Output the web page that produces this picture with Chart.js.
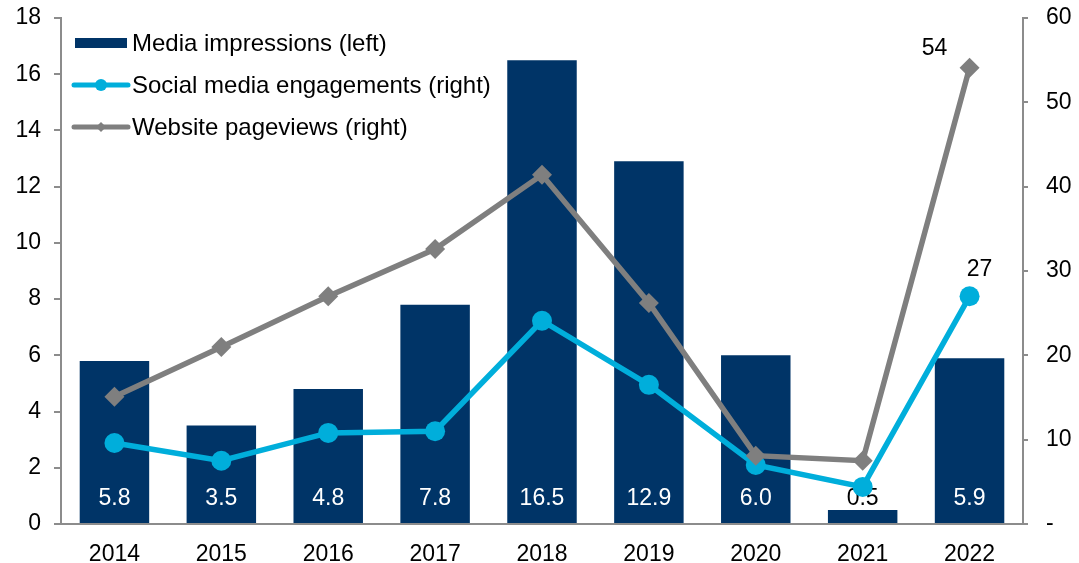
<!DOCTYPE html>
<html>
<head>
<meta charset="utf-8">
<script src="https://cdn.jsdelivr.net/npm/chart.js@4"></script>
<style>
  html, body { margin: 0; padding: 0; background: #fff; }
  #wrap { width: 1079px; height: 563px; }
</style>
</head>
<body>
<div id="wrap"><canvas id="chart"></canvas></div>
<script>
const years = ["2014", "2015", "2016", "2017", "2018", "2019", "2020", "2021", "2022"];
const mediaImpressions = [5.8, 3.5, 4.8, 7.8, 16.5, 12.9, 6.0, 0.5, 5.9];
const socialEngagements = [9.6, 7.5, 10.8, 11.0, 24.1, 16.5, 7.0, 4.4, 27];
const websitePageviews = [15.1, 21.0, 27.0, 32.6, 41.4, 26.2, 8.1, 7.5, 54.1];
const legendLabels = ["Media impressions (left)", "Social media engagements (right)", "Website pageviews (right)"];

const NAVY = "#003467";
const CYAN = "#00AEDB";
const GREY = "#7F7F7F";
const AXIS = "#8C8C8C";
const FONT = "Liberation Sans, Arial, sans-serif";
const FS = 23;

// value labels on the bars, drawn before the lines
const barLabels = {
  id: "barLabels",
  afterDatasetDraw(chart, args) {
    if (args.index !== 0) return;
    const ctx = chart.ctx;
    const base = chart.scales.y.getPixelForValue(0);
    ctx.save();
    ctx.font = FS + "px " + FONT;
    ctx.textAlign = "center";
    ctx.textBaseline = "middle";
    args.meta.data.forEach((bar, i) => {
      const v = mediaImpressions[i];
      ctx.fillStyle = v < 1 ? "#000" : "#fff";
      ctx.fillText(v.toFixed(1), bar.x, base - 25);
    });
    ctx.restore();
  }
};

// end labels and in-plot legend
const extras = {
  id: "extras",
  afterDraw(chart) {
    const ctx = chart.ctx;
    ctx.save();
    ctx.font = FS + "px " + FONT;
    ctx.fillStyle = "#000";
    ctx.textBaseline = "middle";
    ctx.textAlign = "center";
    const last = years.length - 1;
    const pw = chart.getDatasetMeta(2).data[last];
    const ps = chart.getDatasetMeta(1).data[last];
    ctx.fillText(String(Math.round(websitePageviews[last])), pw.x - 35, pw.y - 19);
    ctx.fillText(String(Math.round(socialEngagements[last])), ps.x + 10, ps.y - 27);

    // legend
    ctx.font = "24px " + FONT;
    ctx.textAlign = "left";
    const x0 = 74, x1 = 128, tx = 132;
    const rows = [43, 85, 127];
    ctx.fillStyle = NAVY;
    ctx.fillRect(75, rows[0] - 5, 52, 10);
    ctx.lineCap = "round";
    ctx.lineWidth = 5;
    ctx.strokeStyle = CYAN;
    ctx.beginPath(); ctx.moveTo(x0, rows[1]); ctx.lineTo(x1, rows[1]); ctx.stroke();
    ctx.fillStyle = CYAN;
    ctx.beginPath(); ctx.arc(101, rows[1], 6, 0, Math.PI * 2); ctx.fill();
    ctx.strokeStyle = GREY;
    ctx.beginPath(); ctx.moveTo(x0, rows[2]); ctx.lineTo(x1, rows[2]); ctx.stroke();
    ctx.fillStyle = GREY;
    ctx.beginPath();
    ctx.moveTo(101, rows[2] - 5); ctx.lineTo(106, rows[2]); ctx.lineTo(101, rows[2] + 5); ctx.lineTo(96, rows[2]);
    ctx.closePath(); ctx.fill();
    ctx.fillStyle = "#000";
    legendLabels.forEach((t, i) => ctx.fillText(t, tx, rows[i] + 1));
    ctx.restore();
  }
};

function noVertPad(scale) {
  scale.paddingTop = 0;
  scale.paddingBottom = 0;
}

new Chart(document.getElementById("chart"), {
  data: {
    labels: years,
    datasets: [
      {
        type: "bar",
        label: legendLabels[0],
        data: mediaImpressions,
        backgroundColor: NAVY,
        yAxisID: "y",
        order: 3,
        barPercentage: 0.65,
        categoryPercentage: 1
      },
      {
        type: "line",
        label: legendLabels[1],
        data: socialEngagements,
        borderColor: CYAN,
        backgroundColor: CYAN,
        borderWidth: 5.5,
        pointStyle: "circle",
        pointRadius: 10,
        pointBorderWidth: 0,
        tension: 0,
        yAxisID: "y1",
        order: 2
      },
      {
        type: "line",
        label: legendLabels[2],
        data: websitePageviews,
        borderColor: GREY,
        backgroundColor: GREY,
        borderWidth: 5.5,
        pointStyle: "rectRot",
        pointRadius: 10,
        pointBorderWidth: 0,
        tension: 0,
        yAxisID: "y1",
        order: 1
      }
    ]
  },
  options: {
    responsive: true,
    maintainAspectRatio: false,
    animation: false,
    layout: { padding: { top: 18, left: 0, right: 0, bottom: 0 } },
    plugins: {
      legend: { display: false },
      tooltip: { enabled: false }
    },
    scales: {
      x: {
        grid: { display: false },
        border: { display: true, color: AXIS, width: 2 },
        ticks: { color: "#000", font: { family: FONT, size: FS }, padding: 9 },
        afterFit(scale) { scale.height = 39; }
      },
      y: {
        position: "left",
        min: 0,
        max: 18,
        ticks: { stepSize: 2, color: "#000", font: { family: FONT, size: FS }, padding: 13 },
        grid: { drawOnChartArea: false, tickLength: 7, color: AXIS, lineWidth: 2 },
        border: { color: AXIS, width: 2 },
        afterFit(scale) { scale.width = 61; noVertPad(scale); }
      },
      y1: {
        position: "right",
        min: 0,
        max: 60,
        ticks: {
          stepSize: 10,
          color: "#000",
          font: { family: FONT, size: FS },
          padding: 18,
          callback: v => (v === 0 ? "-" : v)
        },
        grid: { drawOnChartArea: false, tickLength: 5, color: AXIS, lineWidth: 2 },
        border: { color: AXIS, width: 2 },
        afterFit(scale) { scale.width = 56; noVertPad(scale); }
      }
    }
  },
  plugins: [barLabels, extras]
});
</script>
</body>
</html>
